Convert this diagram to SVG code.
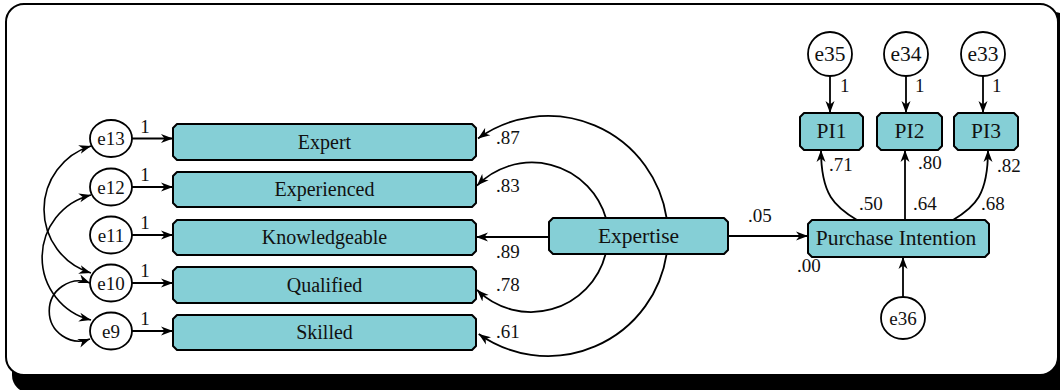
<svg xmlns="http://www.w3.org/2000/svg" width="1060" height="390" viewBox="0 0 1060 390">
  <style>
    .box { fill: #85CFD6; stroke: #000; stroke-width: 2; stroke-linejoin: round; }
    .err { fill: #fff; stroke: #000; stroke-width: 1.8; }
    .lbl { font-family: 'Liberation Serif', 'DejaVu Serif', serif; font-size: 20px; fill: #111; text-anchor: middle; }
    .big { font-size: 21.5px; }
    .elbl { font-family: 'Liberation Serif', 'DejaVu Serif', serif; font-size: 19px; fill: #111; text-anchor: middle; }
    .etop { font-size: 21.5px; }
    .num { font-family: 'Liberation Serif', 'DejaVu Serif', serif; font-size: 19px; fill: #111; }
    .edge { fill: none; stroke: #000; stroke-width: 1.8; marker-end: url(#ah); }
    .cov { fill: none; stroke: #000; stroke-width: 1.6; marker-start: url(#ah); marker-end: url(#ah); }
  </style>
  <defs>
    <marker id="ah" viewBox="0 0 12 10" refX="12" refY="5" markerWidth="12" markerHeight="10" markerUnits="userSpaceOnUse" orient="auto-start-reverse">
      <path d="M0,0.5 L12,5 L0,9.5 L3.5,5 z" fill="#000"/>
    </marker>
  </defs>

  <!-- frame with drop shadow -->
  <g id="frame">
    <rect x="12" y="12" width="1060" height="381" rx="18" fill="#000"/>
    <rect x="6" y="4" width="1052" height="371" rx="18" fill="#fff" stroke="#000" stroke-width="2"/>
  </g>

  <!-- error terms of the indicators -->
  <g id="e13"><ellipse class="err" cx="111" cy="138.5" rx="21" ry="18.5"/><text class="elbl" x="111" y="145">e13</text></g>
  <g id="e12"><ellipse class="err" cx="111" cy="187" rx="21" ry="18.5"/><text class="elbl" x="111" y="193.5">e12</text></g>
  <g id="e11"><ellipse class="err" cx="111" cy="235" rx="21" ry="18.5"/><text class="elbl" x="111" y="241.5">e11</text></g>
  <g id="e10"><ellipse class="err" cx="111" cy="283" rx="21" ry="18.5"/><text class="elbl" x="111" y="289.5">e10</text></g>
  <g id="e9"><ellipse class="err" cx="111" cy="331" rx="21" ry="18.5"/><text class="elbl" x="111" y="337.5">e9</text></g>

  <!-- observed indicators of Expertise -->
  <g id="expert"><polygon class="box" points="177,124 472,124 476,128 476,156 472,160 177,160 173,156 173,128"/><text class="lbl" x="324.5" y="148.5">Expert</text></g>
  <g id="experienced"><polygon class="box" points="177,172 472,172 476,176 476,203 472,207 177,207 173,203 173,176"/><text class="lbl" x="324.5" y="196">Experienced</text></g>
  <g id="knowledgeable"><polygon class="box" points="177,220 472,220 476,224 476,251 472,255 177,255 173,251 173,224"/><text class="lbl" x="324.5" y="244">Knowledgeable</text></g>
  <g id="qualified"><polygon class="box" points="177,267 472,267 476,271 476,299 472,303 177,303 173,299 173,271"/><text class="lbl" x="324.5" y="291.5">Qualified</text></g>
  <g id="skilled"><polygon class="box" points="177,315 472,315 476,319 476,346 472,350 177,350 173,346 173,319"/><text class="lbl" x="324.5" y="339">Skilled</text></g>

  <!-- latent constructs -->
  <g id="expertise"><polygon class="box" points="553,218 724,218 728,222 728,250 724,254 553,254 549,250 549,222"/><text class="lbl big" x="638.5" y="243">Expertise</text></g>
  <g id="purchase-intention"><polygon class="box" points="812,220 985,220 989,224 989,253 985,257 812,257 808,253 808,224"/><text class="lbl big" x="896" y="244.5">Purchase Intention</text></g>

  <!-- indicators of Purchase Intention -->
  <g id="pi1"><polygon class="box" points="804,113 859,113 863,117 863,146 859,150 804,150 800,146 800,117"/><text class="lbl big" x="831.5" y="137.5">PI1</text></g>
  <g id="pi2"><polygon class="box" points="881,113 938,113 942,117 942,146 938,150 881,150 877,146 877,117"/><text class="lbl big" x="909.5" y="137.5">PI2</text></g>
  <g id="pi3"><polygon class="box" points="958,113 1014,113 1018,117 1018,146 1014,150 958,150 954,146 954,117"/><text class="lbl big" x="986" y="137.5">PI3</text></g>

  <g id="e35"><circle class="err" cx="830" cy="54" r="22"/><text class="elbl etop" x="830" y="61">e35</text></g>
  <g id="e34"><circle class="err" cx="906" cy="54" r="22"/><text class="elbl etop" x="906" y="61">e34</text></g>
  <g id="e33"><circle class="err" cx="983" cy="54" r="22"/><text class="elbl etop" x="983" y="61">e33</text></g>
  <g id="e36"><ellipse class="err" cx="903" cy="318" rx="22" ry="21"/><text class="elbl" x="903" y="324.5">e36</text></g>

  <g id="connectors">
    <!-- error terms to indicators -->
    <path class="edge" d="M132,138.5 L173,138.5"/>
    <path class="edge" d="M132,187 L173,187"/>
    <path class="edge" d="M132,235 L173,235"/>
    <path class="edge" d="M132,283 L173,283"/>
    <path class="edge" d="M132,331 L173,331"/>
    <text class="num" x="145" y="133" text-anchor="middle">1</text>
    <text class="num" x="145" y="181" text-anchor="middle">1</text>
    <text class="num" x="145" y="229" text-anchor="middle">1</text>
    <text class="num" x="145" y="277" text-anchor="middle">1</text>
    <text class="num" x="145" y="325" text-anchor="middle">1</text>

    <!-- error covariances -->
    <path class="cov" d="M91,146 A66.4,66.4 0 0 0 91,273"/>
    <path class="cov" d="M91,195 A64.4,64.4 0 0 0 91,320"/>
    <path class="cov" d="M90,283 A30,30 0 1 0 90,339"/>

    <!-- loadings of Expertise -->
    <path class="edge" d="M666.6,218 A120,120 0 0 0 478,138.5"/>
    <path class="edge" d="M605.9,218 A77,77 0 0 0 477,185.6"/>
    <path class="edge" d="M549,237 L476,237"/>
    <path class="edge" d="M605.6,254 A77,77 0 0 1 477,289.9"/>
    <path class="edge" d="M666.6,254 A120,120 0 0 1 478.7,334"/>
    <text class="num" x="496" y="144">.87</text>
    <text class="num" x="496" y="192">.83</text>
    <text class="num" x="496" y="258">.89</text>
    <text class="num" x="496" y="291">.78</text>
    <text class="num" x="496" y="338">.61</text>

    <!-- structural path -->
    <path class="edge" d="M728,236 L808,236"/>
    <text class="num" x="748" y="222">.05</text>
    <text class="num" x="797" y="272">.00</text>

    <!-- loadings of Purchase Intention -->
    <path class="edge" d="M857,220 C835,207 821,195 821,150"/>
    <path class="edge" d="M905,220 L905,150"/>
    <path class="edge" d="M953,220 C975,207 988,195 988,150"/>
    <text class="num" x="859" y="210">.50</text>
    <text class="num" x="913" y="210">.64</text>
    <text class="num" x="981" y="210">.68</text>
    <text class="num" x="829" y="171">.71</text>
    <text class="num" x="918" y="169">.80</text>
    <text class="num" x="997" y="172">.82</text>

    <!-- error terms of Purchase Intention side -->
    <path class="edge" d="M830,76 L830,113"/>
    <path class="edge" d="M906,76 L906,113"/>
    <path class="edge" d="M983,76 L983,113"/>
    <path class="edge" d="M903,297 L903,257"/>
    <text class="num" x="840" y="92">1</text>
    <text class="num" x="915" y="92">1</text>
    <text class="num" x="992" y="92">1</text>
  </g>
</svg>
